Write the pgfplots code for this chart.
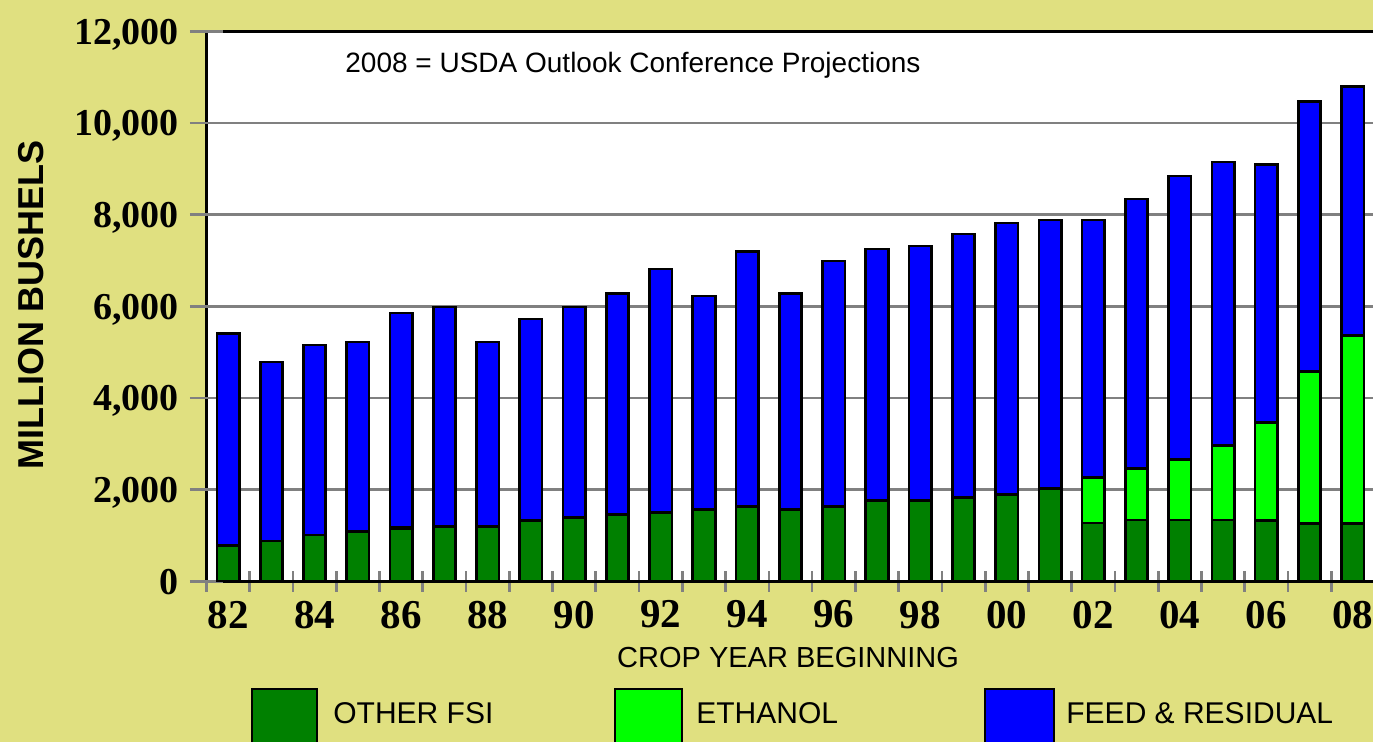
\documentclass[border=0pt]{standalone}
\usepackage{pgfplots}
\usepackage{pgfplotstable}
\pgfplotsset{compat=1.18}
\usepackage{fontspec}
\setmainfont{Liberation Sans}
\newfontfamily\tickfont{Liberation Serif}
\definecolor{bgY}{RGB}{224,224,128}
\definecolor{fsiG}{RGB}{0,128,0}
\definecolor{ethG}{RGB}{0,255,0}
\definecolor{feedB}{RGB}{0,0,255}
\definecolor{gridG}{RGB}{128,128,128}

\pgfplotstableread{
idx fsi eth feed
0 780 0 4620
1 880 0 3905
2 1010 0 4145
3 1080 0 4140
4 1140 40 4675
5 1195 0 4790
6 1190 0 4030
7 1330 0 4395
8 1390 0 4595
9 1460 0 4825
10 1500 0 5315
11 1565 0 4660
12 1630 0 5560
13 1570 0 4715
14 1630 0 5360
15 1760 0 5490
16 1760 0 5555
17 1830 0 5750
18 1890 0 5930
19 2020 0 5865
20 1270 1000 5615
21 1340 1120 5880
22 1340 1320 6185
23 1340 1630 6180
24 1330 2140 5630
25 1265 3305 5895
26 1265 4095 5430
}\datatable

\begin{document}
\begin{tikzpicture}
\path[use as bounding box, fill=bgY] (-103.25pt,-80.35pt) rectangle (583.25pt,290.65pt);
\begin{axis}[
  at={(0pt,0pt)}, anchor=south west,
  scale only axis, width=584pt, height=275pt,
  xmin=-0.5, xmax=26.5, ymin=0, ymax=12000,
  axis background/.style={fill=white},
  axis line style={black, line width=1.35pt},
  ybar stacked, bar width=11.2pt,
  xtick={-0.5,0.5,...,26.5},
  xticklabels={82,,84,,86,,88,,90,,92,,94,,96,,98,,00,,02,,04,,06,,08,},
  ytick={0,2000,...,12000},
  scaled y ticks=false,
  tick pos=left,
  extra y ticks={0,2000,...,12000},
  extra y tick labels={},
  extra y tick style={major tick length=16.5pt, grid=none},
  ymajorgrids, grid style={gridG, line width=1.35pt},
  tick align=center,
  major tick length=10.5pt,
  tick style={gridG, line width=1.35pt},
  /pgf/number format/1000 sep={,},
  /pgf/number format/assume math mode=true,
  yticklabel style={font=\tickfont\bfseries\fontsize{19}{20}\selectfont, anchor=base east, inner sep=0pt, xshift=-8.5pt, yshift=-6.4pt},
  xticklabel style={font=\tickfont\bfseries\fontsize{20.5}{22}\selectfont, anchor=north, inner sep=0pt, xshift=10.815pt, yshift=-4.3pt},
  ylabel={MILLION BUSHELS},
  ylabel style={at={(axis description cs:-0.15026,0.5024)}, anchor=center, font=\bfseries\fontsize{18}{20}\selectfont, inner sep=0pt},
  xlabel={CROP YEAR BEGINNING},
  xlabel style={at={(axis description cs:0.4979,-0.1395)}, anchor=center, font=\fontsize{14.5}{16}\selectfont, inner sep=0pt},
]
\addplot[fill=fsiG, draw=black, line width=1.35pt] table[x=idx, y=fsi]{\datatable};
\addplot[fill=ethG, draw=black, line width=1.35pt] table[x=idx, y=eth]{\datatable};
\addplot[fill=feedB, draw=black, line width=1.35pt] table[x=idx, y=feed]{\datatable};
\end{axis}
\node[anchor=base west, inner sep=0pt, font=\fontsize{14}{15}\selectfont] at (69.25pt,254.3pt) {2008 = USDA Outlook Conference Projections};
% legend
\draw[fill=fsiG, line width=1pt] (22.6pt,-86pt) rectangle (55.25pt,-53.85pt);
\node[anchor=west, inner sep=0pt, font=\fontsize{15}{17}\selectfont] at (63.25pt,-66.1pt) {OTHER FSI};
\draw[fill=ethG, line width=1pt] (204.25pt,-86pt) rectangle (237.75pt,-53.85pt);
\node[anchor=west, inner sep=0pt, font=\fontsize{15}{17}\selectfont] at (244.75pt,-66.1pt) {ETHANOL};
\draw[fill=feedB, line width=1pt] (389.25pt,-86pt) rectangle (423.75pt,-53.85pt);
\node[anchor=west, inner sep=0pt, font=\fontsize{15}{17}\selectfont] at (429.75pt,-66.1pt) {FEED \& RESIDUAL};
\end{tikzpicture}
\end{document}
